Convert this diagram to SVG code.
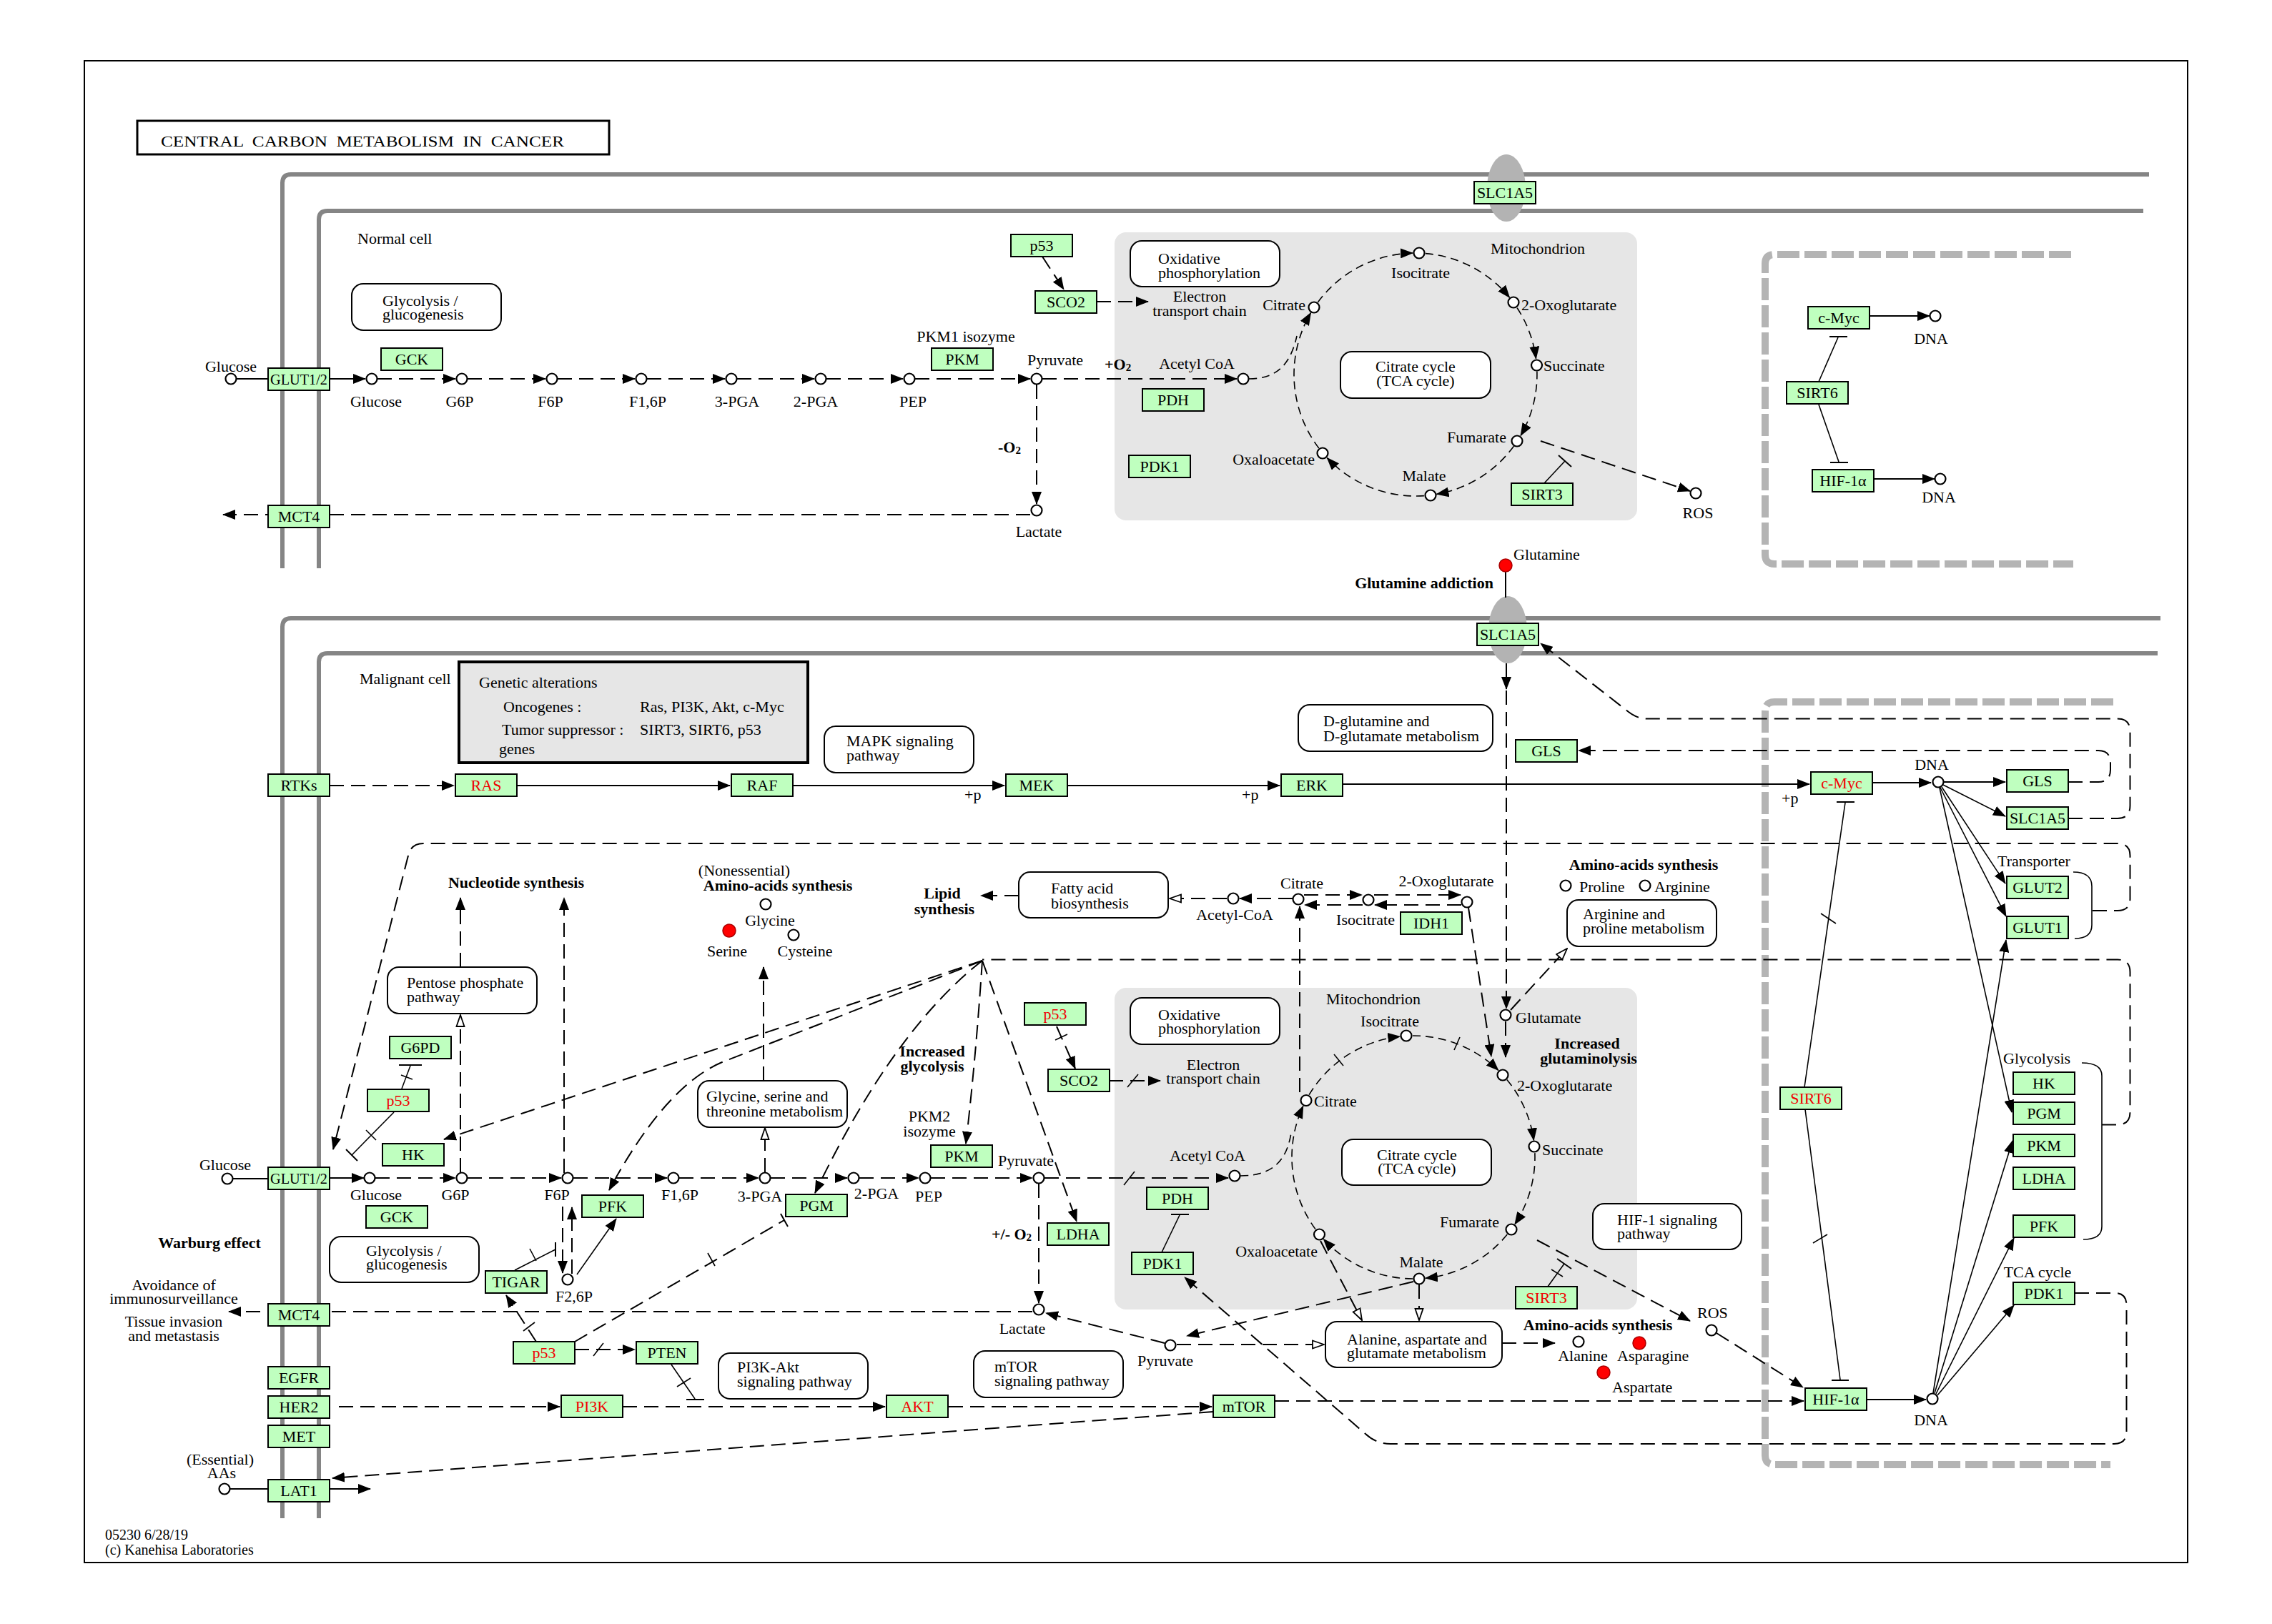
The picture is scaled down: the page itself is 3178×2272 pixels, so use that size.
<svg xmlns="http://www.w3.org/2000/svg" width="3178" height="2272" viewBox="0 0 3178 2272">
<defs>
<style>
text{font-family:"Liberation Serif","Times New Roman",serif;font-size:22px;fill:#000}
.m{text-anchor:middle}
.e{text-anchor:end}
.b{font-weight:bold}
.red{fill:#f00000}
.sm{font-size:20px}
.gb rect{fill:#bfffbf;stroke:#000;stroke-width:2}
.pw rect{fill:#fff;stroke:#000;stroke-width:2}
.c{fill:#fff;stroke:#000;stroke-width:2.2}
.rc{fill:#f00;stroke:#a00;stroke-width:1.5}
.mem{fill:none;stroke:#858585;stroke-width:6}
.gd{fill:none;stroke:#b4b4b4;stroke-width:10;stroke-dasharray:31 7}
.s{fill:none;stroke:#000;stroke-width:2}
.d{fill:none;stroke:#000;stroke-width:2;stroke-dasharray:20 10}
.t{fill:none;stroke:#000;stroke-width:1.6;stroke-dasharray:11 7}
.th{fill:none;stroke:#000;stroke-width:1.6}
.a{marker-end:url(#ar)}
.h{marker-end:url(#ho)}
</style>
<marker id="ar" markerUnits="userSpaceOnUse" markerWidth="18" markerHeight="14" refX="17" refY="7" orient="auto" viewBox="0 0 18 14"><path d="M0,0 L18,7 L0,14 Z" fill="#000"/></marker>
<marker id="ho" markerUnits="userSpaceOnUse" markerWidth="18" markerHeight="14" refX="17" refY="7" orient="auto" viewBox="0 0 18 14"><path d="M1,1.5 L17,7 L1,12.5 Z" fill="#fff" stroke="#000" stroke-width="1.8"/></marker>
</defs>

<rect width="3178" height="2272" fill="#fff"/>
<rect x="118" y="85" width="2942" height="2101" fill="none" stroke="#000" stroke-width="2"/>

<!-- title -->
<g id="title">
<rect x="192" y="169" width="660" height="47" fill="#fff" stroke="#000" stroke-width="3"/>
<text x="225" y="205" font-size="27" textLength="564" lengthAdjust="spacingAndGlyphs" xml:space="preserve">CENTRAL  CARBON  METABOLISM  IN  CANCER</text>
</g>

<!-- cell membranes -->
<g id="membranes">
<path class="mem" d="M395,795 V256 Q395,244 407,244 H3006"/>
<path class="mem" d="M446,795 V307 Q446,295 458,295 H2998"/>
<path class="mem" d="M395,2124 V877 Q395,865 407,865 H3022"/>
<path class="mem" d="M446,2124 V926 Q446,914 458,914 H3018"/>
<ellipse cx="2107" cy="263" rx="27" ry="47" fill="#b3b3b3"/>
<ellipse cx="2109" cy="881" rx="27" ry="47" fill="#b3b3b3"/>
</g>

<!-- nucleus-like regions, mitochondria and the alterations panel -->
<g id="regions">
<path class="gd" d="M2897,356 H2482 Q2469,356 2469,369 V776 Q2469,789 2482,789 H2900"/>
<path class="gd" d="M2956,982 H2482 Q2469,982 2469,995 V2036 Q2469,2049 2482,2049 H2952"/>
<rect x="1559" y="325" width="731" height="403" rx="16" fill="#e6e6e6"/>
<rect x="1559" y="1382" width="731" height="450" rx="16" fill="#e6e6e6"/>
<rect x="642" y="926" width="488" height="141" fill="#e6e6e6" stroke="#000" stroke-width="4"/>
<text x="670" y="962">Genetic alterations</text>
<text x="704" y="996">Oncogenes :</text>
<text x="895" y="996">Ras, PI3K, Akt, c-Myc</text>
<text x="702" y="1028">Tumor suppressor :</text>
<text x="895" y="1028">SIRT3, SIRT6, p53</text>
<text x="698" y="1055">genes</text>
</g>

<g id="connectors">
<!-- normal cell glycolysis -->
<path class="s" d="M331,530 H375"/>
<path class="s a" d="M461,530 H511"/>
<path class="d a" d="M528,530 H637"/>
<path class="d a" d="M654,530 H763"/>
<path class="d a" d="M780,530 H888"/>
<path class="d a" d="M905,530 H1014"/>
<path class="d a" d="M1031,530 H1139"/>
<path class="d a" d="M1156,530 H1263"/>
<path class="d a" d="M1280,530 H1441"/>
<path class="d a" d="M1458,530 H1730"/>
<path class="d a" d="M1450,538 V705"/>
<path class="d a" d="M1441,720 H312"/>
<path class="d a" d="M1458,359 L1488,405"/>
<path class="d a" d="M1534,422 H1606"/>
<path class="t" d="M1747,530 C1790,530 1806,505 1814,470"/>
<!-- normal TCA cycle -->
<path class="t a" d="M1843.3,422.9 A170,170 0 0 1 1976.1,354.0"/>
<path class="t a" d="M1993.9,354.6 A170,170 0 0 1 2111.5,416.3"/>
<path class="t a" d="M2122.1,430.7 A170,170 0 0 1 2148.5,501.8"/>
<path class="t a" d="M2149.9,519.5 A170,170 0 0 1 2127.1,609.3"/>
<path class="t a" d="M2117.4,624.2 A170,170 0 0 1 2009.5,691.4"/>
<path class="t a" d="M1991.9,693.6 A170,170 0 0 1 1856.3,640.6"/>
<path class="t a" d="M1844.8,627.0 A170,170 0 0 1 1833.5,437.7"/>
<path class="d a" d="M2155,617 L2364,687"/>
<path class="th" d="M2160,676 L2189,645"/>
<path class="s" d="M2180,637 L2198,653"/>
<path class="s a" d="M2615,442 H2699"/>
<path class="s a" d="M2621,670 H2706"/>
<path class="th" d="M2544,534 L2571,472"/>
<path class="s" d="M2559,471 H2584"/>
<path class="th" d="M2544,566 L2572,646"/>
<path class="s" d="M2560,647 H2585"/>
<!-- glutamine uptake -->
<path class="s" d="M2106,800 V836"/>
<path class="s a" d="M2107,928 V964"/>
<path class="d a" d="M2107,966 V1411"/>

<!-- malignant cell signalling -->
<path class="d a" d="M461,1099 H635"/>
<path class="s a" d="M722,1099 H1021"/>
<path class="s a" d="M1109,1099 H1405"/>
<path class="s a" d="M1493,1099 H1790"/>
<path class="s a" d="M1878,1097 H2531"/>
<path class="s a" d="M2619,1095 H2701"/>
<path class="s a" d="M2719,1094 H2805"/>
<path class="th a" d="M2718,1098 L2805,1142"/>
<path class="th a" d="M2716,1101 L2805,1236"/>
<path class="th a" d="M2714,1102 L2806,1282"/>
<path class="th a" d="M2713,1102 L2814,1556"/>
<path class="th a" d="M2704,1949 L2806,1315"/>
<path class="th a" d="M2706,1949 L2815,1596"/>
<path class="th a" d="M2708,1950 L2817,1732"/>
<path class="th a" d="M2710,1952 L2817,1826"/>
<path class="s a" d="M2611,1958 H2694"/>
<path class="th" d="M2525,1552 L2574,1930"/>
<path class="s" d="M2562,1931 H2586"/>
<path class="th" d="M2536,1739 L2556,1727"/>
<path class="th" d="M2524,1521 L2581,1123"/>
<path class="s" d="M2569,1122 H2594"/>
<path class="th" d="M2547,1278 L2568,1292"/>

<!-- feedback loops -->
<path class="d a" d="M2893,1094 H2935 Q2952,1094 2952,1077 V1067 Q2952,1050 2935,1050 H2208"/>
<path class="d a" d="M2893,1145 H2962 Q2979.5,1145 2979.5,1127 V1023 Q2979.5,1005.6 2962,1005.6 H2305 Q2290,1005.6 2278,996 L2155,900"/>
<path class="d a" d="M2927,1274 H2962 Q2979.5,1274 2979.5,1257 V1197 Q2979.5,1180 2962,1180 H592 Q575,1180 571,1197 L466,1608"/>
<path class="d" d="M2940,1573.5 H2962 Q2979.5,1573.5 2979.5,1556 V1360 Q2979.5,1342.5 2962,1342.5 H1374"/>
<path class="th" d="M2900,1220 Q2926,1220 2926,1240 V1294 Q2926,1313 2902,1313"/>
<path class="th" d="M2912,1487 Q2940,1487 2940,1505 V1716 Q2940,1734 2914,1734"/>
<path class="d a" d="M2902,1809 H2958 Q2974.5,1809 2974.5,1826 V2003 Q2974.5,2020 2957,2020 H1945 Q1925,2020 1910,2006 L1657,1787"/>
<!-- increased glycolysis fan -->
<path class="d a" d="M1374,1344 L621,1594"/>
<path class="d a" d="M1374,1344 L1010,1486 Q930,1520 852,1665"/>
<path class="d a" d="M1374,1344 Q1250,1440 1140,1669"/>
<path class="d a" d="M1374,1344 Q1365,1480 1351,1600"/>
<path class="d a" d="M1374,1344 L1506,1709"/>

<!-- cytosolic citrate / glutaminolysis -->
<path class="d a" d="M1808,1257 H1734"/>
<path class="d h" d="M1716,1257 H1636"/>
<path class="d a" d="M1425,1253 H1372"/>
<path class="d a" d="M1824,1252 H1905"/>
<path class="d a" d="M1906,1266 H1825"/>
<path class="d a" d="M1922,1252 H2043"/>
<path class="d a" d="M2044,1266 H1923"/>
<path class="d a" d="M1818,1528 V1268"/>
<path class="d a" d="M2054,1270 L2086,1478"/>
<path class="d a" d="M2106,1429 V1479"/>
<path class="d h" d="M2113,1413 L2192,1327"/>
<path class="d a" d="M1068,1512 V1353"/>
<path class="d h" d="M1070,1640 V1578"/>
<path class="d h" d="M644,1640 V1420"/>
<path class="d a" d="M644,1353 V1256"/>
<path class="d a" d="M789,1641 V1256"/>

<!-- malignant glycolysis -->
<path class="s" d="M326,1649 H375"/>
<path class="s a" d="M461,1648 H509"/>
<path class="d a" d="M525,1648 H637"/>
<path class="d a" d="M654,1648 H785"/>
<path class="d a" d="M802,1648 H933"/>
<path class="d a" d="M950,1648 H1061"/>
<path class="d a" d="M1078,1648 H1185"/>
<path class="d a" d="M1202,1648 H1285"/>
<path class="d a" d="M1302,1648 H1444"/>
<path class="d a" d="M1461,1648 H1718"/>
<path class="th" d="M1572,1658 L1587,1639"/>
<path class="d a" d="M1453,1656 V1823"/>
<path class="d a" d="M1444,1835 H320"/>
<path class="d a" d="M1551,1512 H1623"/>
<path class="th" d="M1577,1521 L1592,1503"/>
<path class="d a" d="M1478,1436 L1504,1495"/>
<path class="th" d="M1476,1455 L1493,1447"/>
<path class="t" d="M1735,1645 C1782,1645 1800,1622 1806,1585"/>
<!-- malignant TCA cycle -->
<path class="t a" d="M1831.1,1531.7 A170,170 0 0 1 1958.3,1450.0"/>
<path class="t a" d="M1976.1,1449.0 A170,170 0 0 1 2095.8,1497.4"/>
<path class="t a" d="M2107.8,1510.4 A170,170 0 0 1 2145.4,1595.3"/>
<path class="t a" d="M2146.9,1613.1 A170,170 0 0 1 2118.8,1712.8"/>
<path class="t a" d="M2108.2,1727.1 A170,170 0 0 1 1993.9,1788.2"/>
<path class="t a" d="M1976.1,1789.0 A170,170 0 0 1 1851.3,1733.4"/>
<path class="t a" d="M1840.0,1719.6 A170,170 0 0 1 1822.8,1547.4"/>
<path class="th" d="M1866,1475 L1879,1491"/>
<path class="th" d="M2034,1469 L2042,1451"/>
<path class="th" d="M1625,1752 L1650,1700"/>
<path class="s" d="M1638,1699 H1663"/>
<path class="d a" d="M1977,1793 L1660,1869"/>
<path class="d h" d="M1646,1881 H1852"/>
<path class="d a" d="M1629,1879 L1463,1837"/>
<path class="d h" d="M1847,1736 L1905,1847"/>
<path class="d h" d="M1985,1797 V1847"/>
<path class="d a" d="M2101,1879 H2175"/>
<path class="d a" d="M2150,1735 L2364,1848"/>
<path class="th" d="M2165,1800 L2188,1768"/>
<path class="s" d="M2178,1761 L2198,1775"/>
<path class="th" d="M2170,1776 L2186,1786"/>
<path class="d a" d="M2401,1865 L2522,1941"/>
<path class="d a" d="M1783,1960 H2523"/>
<!-- growth factor signalling -->
<path class="d a" d="M474,1968 H783"/>
<path class="d a" d="M871,1968 H1238"/>
<path class="d a" d="M1327,1968 H1695"/>
<path class="d a" d="M1697,1975 L465,2068"/>
<path class="s" d="M322,2083 H375"/>
<path class="s a" d="M461,2083 H518"/>
<path class="th" d="M939,1909 L972,1957"/>
<path class="s" d="M960,1958 H985"/>
<path class="th" d="M947,1940 L966,1928"/>
<path class="d a" d="M804,1888 H888"/>
<path class="th" d="M830,1897 L844,1879"/>
<path class="d a" d="M750,1877 L708,1812"/>
<path class="th" d="M732,1862 L748,1850"/>
<path class="d" d="M804,1877 L1097,1707"/>
<path class="th" d="M990,1753 L1000,1771"/>
<path class="s" d="M1092,1698 L1102,1716"/>
<path class="th" d="M720,1777 L777,1748"/>
<path class="s" d="M777,1738 V1758"/>
<path class="th" d="M741,1747 L750,1764"/>
<path class="d a" d="M787,1688 V1781"/>
<path class="d a" d="M800,1782 V1689"/>
<path class="th a" d="M807,1783 L862,1705"/>
<path class="th" d="M562,1523 L574,1491"/>
<path class="s" d="M558,1490 H590"/>
<path class="th" d="M561,1504 L577,1510"/>
<path class="th" d="M551,1556 L492,1616"/>
<path class="s" d="M484,1608 L500,1624"/>
<path class="th" d="M512,1581 L526,1595"/>
</g>

<!-- pathway maps -->
<g class="pw">
<g id="p-glyco-n"><rect x="492" y="397" width="209" height="65" rx="16"/><text x="535" y="428">Glycolysis /</text><text x="535" y="447">glucogenesis</text></g>
<g id="p-oxphos-n"><rect x="1581" y="337" width="209" height="64" rx="16"/><text x="1620" y="369">Oxidative</text><text x="1620" y="389">phosphorylation</text></g>
<g id="p-tca-n"><rect x="1875" y="492" width="210" height="65" rx="16"/><text class="m" x="1980" y="520">Citrate cycle</text><text class="m" x="1980" y="540">(TCA cycle)</text></g>
<g id="p-mapk"><rect x="1153" y="1016" width="209" height="65" rx="16"/><text x="1184" y="1044">MAPK signaling</text><text x="1184" y="1064">pathway</text></g>
<g id="p-dglu"><rect x="1816" y="986" width="272" height="65" rx="16"/><text x="1851" y="1016">D-glutamine and</text><text x="1851" y="1037">D-glutamate metabolism</text></g>
<g id="p-ppp"><rect x="542" y="1353" width="209" height="65" rx="16"/><text x="569" y="1382">Pentose phosphate</text><text x="569" y="1402">pathway</text></g>
<g id="p-fatty"><rect x="1425" y="1220" width="209" height="64" rx="16"/><text x="1470" y="1250">Fatty acid</text><text x="1470" y="1271">biosynthesis</text></g>
<g id="p-argpro"><rect x="2192" y="1259" width="209" height="65" rx="16"/><text x="2214" y="1286">Arginine and</text><text x="2214" y="1306">proline metabolism</text></g>
<g id="p-gly"><rect x="976" y="1512" width="209" height="65" rx="16"/><text x="988" y="1541">Glycine, serine and</text><text x="988" y="1562">threonine metabolism</text></g>
<g id="p-oxphos-m"><rect x="1581" y="1396" width="209" height="65" rx="16"/><text x="1620" y="1427">Oxidative</text><text x="1620" y="1446">phosphorylation</text></g>
<g id="p-tca-m"><rect x="1877" y="1594" width="209" height="64" rx="16"/><text class="m" x="1982" y="1623">Citrate cycle</text><text class="m" x="1982" y="1642">(TCA cycle)</text></g>
<g id="p-hif1"><rect x="2228" y="1684" width="208" height="64" rx="16"/><text x="2262" y="1714">HIF-1 signaling</text><text x="2262" y="1733">pathway</text></g>
<g id="p-glyco-m"><rect x="461" y="1730" width="209" height="64" rx="16"/><text x="512" y="1757">Glycolysis /</text><text x="512" y="1776">glucogenesis</text></g>
<g id="p-ala"><rect x="1854" y="1849" width="247" height="64" rx="16"/><text x="1884" y="1881">Alanine, aspartate and</text><text x="1884" y="1900">glutamate metabolism</text></g>
<g id="p-pi3k"><rect x="1005" y="1893" width="209" height="64" rx="16"/><text x="1031" y="1920">PI3K-Akt</text><text x="1031" y="1940">signaling pathway</text></g>
<g id="p-mtor"><rect x="1362" y="1890" width="209" height="65" rx="16"/><text x="1391" y="1919">mTOR</text><text x="1391" y="1939">signaling pathway</text></g>
</g>

<!-- gene products -->
<g class="gb">
<g id="n-glut12"><rect x="375" y="515" width="86" height="31"/><text class="m" x="418" y="538" textLength="80" lengthAdjust="spacingAndGlyphs">GLUT1/2</text></g>
<g id="n-mct4"><rect x="375" y="707" width="86" height="31"/><text class="m" x="418" y="730">MCT4</text></g>
<g id="n-gck"><rect x="533" y="487" width="86" height="31"/><text class="m" x="576" y="510">GCK</text></g>
<g id="n-pkm"><rect x="1303" y="487" width="86" height="31"/><text class="m" x="1346" y="510">PKM</text></g>
<g id="n-p53"><rect x="1414" y="328" width="86" height="31"/><text class="m" x="1457" y="351">p53</text></g>
<g id="n-sco2"><rect x="1448" y="407" width="86" height="31"/><text class="m" x="1491" y="430">SCO2</text></g>
<g id="n-pdh"><rect x="1598" y="544" width="86" height="31"/><text class="m" x="1641" y="567">PDH</text></g>
<g id="n-pdk1"><rect x="1579" y="637" width="86" height="31"/><text class="m" x="1622" y="660">PDK1</text></g>
<g id="n-sirt3"><rect x="2114" y="676" width="86" height="31"/><text class="m" x="2157" y="699">SIRT3</text></g>
<g id="n-slc1a5"><rect x="2062" y="254" width="86" height="31"/><text class="m" x="2105" y="277">SLC1A5</text></g>
<g id="n-cmyc"><rect x="2529" y="429" width="86" height="31"/><text class="m" x="2572" y="452">c-Myc</text></g>
<g id="n-sirt6"><rect x="2499" y="534" width="86" height="31"/><text class="m" x="2542" y="557">SIRT6</text></g>
<g id="n-hif1a"><rect x="2535" y="657" width="86" height="31"/><text class="m" x="2578" y="680">HIF-1α</text></g>

<g id="m-rtks"><rect x="375" y="1083" width="86" height="31"/><text class="m" x="418" y="1106">RTKs</text></g>
<g id="m-ras"><rect x="637" y="1083" width="86" height="31"/><text class="m red" x="680" y="1106">RAS</text></g>
<g id="m-raf"><rect x="1023" y="1083" width="86" height="31"/><text class="m" x="1066" y="1106">RAF</text></g>
<g id="m-mek"><rect x="1407" y="1083" width="86" height="31"/><text class="m" x="1450" y="1106">MEK</text></g>
<g id="m-erk"><rect x="1792" y="1083" width="86" height="31"/><text class="m" x="1835" y="1106">ERK</text></g>
<g id="m-cmyc"><rect x="2533" y="1080" width="86" height="31"/><text class="m red" x="2576" y="1103">c-Myc</text></g>
<g id="m-gls"><rect x="2120" y="1035" width="86" height="31"/><text class="m" x="2163" y="1058">GLS</text></g>
<g id="m-slc1a5"><rect x="2066" y="872" width="86" height="31"/><text class="m" x="2109" y="895">SLC1A5</text></g>
<g id="m-gls-t"><rect x="2807" y="1077" width="86" height="31"/><text class="m" x="2850" y="1100">GLS</text></g>
<g id="m-slc1a5-t"><rect x="2807" y="1129" width="86" height="31"/><text class="m" x="2850" y="1152">SLC1A5</text></g>
<g id="m-glut2"><rect x="2807" y="1226" width="86" height="31"/><text class="m" x="2850" y="1249">GLUT2</text></g>
<g id="m-glut1"><rect x="2807" y="1282" width="86" height="31"/><text class="m" x="2850" y="1305">GLUT1</text></g>
<g id="m-idh1"><rect x="1959" y="1276" width="86" height="31"/><text class="m" x="2002" y="1299">IDH1</text></g>
<g id="m-g6pd"><rect x="545" y="1450" width="86" height="31"/><text class="m" x="588" y="1473">G6PD</text></g>
<g id="m-p53-a"><rect x="514" y="1524" width="86" height="31"/><text class="m red" x="557" y="1547">p53</text></g>
<g id="m-hk"><rect x="535" y="1600" width="86" height="31"/><text class="m" x="578" y="1623">HK</text></g>
<g id="m-glut12"><rect x="375" y="1633" width="86" height="31"/><text class="m" x="418" y="1656" textLength="80" lengthAdjust="spacingAndGlyphs">GLUT1/2</text></g>
<g id="m-gck"><rect x="512" y="1687" width="86" height="31"/><text class="m" x="555" y="1710">GCK</text></g>
<g id="m-pfk"><rect x="814" y="1672" width="86" height="31"/><text class="m" x="857" y="1695">PFK</text></g>
<g id="m-tigar"><rect x="679" y="1778" width="86" height="31"/><text class="m" x="722" y="1801">TIGAR</text></g>
<g id="m-mct4"><rect x="375" y="1824" width="86" height="31"/><text class="m" x="418" y="1847">MCT4</text></g>
<g id="m-p53-b"><rect x="718" y="1877" width="86" height="31"/><text class="m red" x="761" y="1900">p53</text></g>
<g id="m-pten"><rect x="890" y="1877" width="86" height="31"/><text class="m" x="933" y="1900">PTEN</text></g>
<g id="m-egfr"><rect x="375" y="1912" width="86" height="31"/><text class="m" x="418" y="1935">EGFR</text></g>
<g id="m-her2"><rect x="375" y="1953" width="86" height="31"/><text class="m" x="418" y="1976">HER2</text></g>
<g id="m-met"><rect x="375" y="1994" width="86" height="31"/><text class="m" x="418" y="2017">MET</text></g>
<g id="m-pi3k"><rect x="785" y="1952" width="86" height="31"/><text class="m red" x="828" y="1975">PI3K</text></g>
<g id="m-akt"><rect x="1240" y="1952" width="86" height="31"/><text class="m red" x="1283" y="1975">AKT</text></g>
<g id="m-lat1"><rect x="375" y="2070" width="86" height="31"/><text class="m" x="418" y="2093">LAT1</text></g>
<g id="m-pgm"><rect x="1099" y="1671" width="86" height="31"/><text class="m" x="1142" y="1694">PGM</text></g>
<g id="m-pkm"><rect x="1302" y="1602" width="86" height="31"/><text class="m" x="1345" y="1625">PKM</text></g>
<g id="m-ldha"><rect x="1465" y="1711" width="86" height="31"/><text class="m" x="1508" y="1734">LDHA</text></g>
<g id="m-p53-c"><rect x="1433" y="1403" width="86" height="31"/><text class="m red" x="1476" y="1426">p53</text></g>
<g id="m-sco2"><rect x="1466" y="1496" width="86" height="31"/><text class="m" x="1509" y="1519">SCO2</text></g>
<g id="m-pdh"><rect x="1604" y="1661" width="86" height="31"/><text class="m" x="1647" y="1684">PDH</text></g>
<g id="m-pdk1"><rect x="1583" y="1752" width="86" height="31"/><text class="m" x="1626" y="1775">PDK1</text></g>
<g id="m-sirt3"><rect x="2120" y="1800" width="86" height="31"/><text class="m red" x="2163" y="1823">SIRT3</text></g>
<g id="m-mtor"><rect x="1697" y="1952" width="86" height="31"/><text class="m" x="1740" y="1975">mTOR</text></g>
<g id="m-sirt6"><rect x="2490" y="1521" width="86" height="31"/><text class="m red" x="2533" y="1544">SIRT6</text></g>
<g id="m-hif1a"><rect x="2525" y="1942" width="86" height="31"/><text class="m" x="2568" y="1965">HIF-1α</text></g>
<g id="t-hk"><rect x="2816" y="1500" width="86" height="31"/><text class="m" x="2859" y="1523">HK</text></g>
<g id="t-pgm"><rect x="2816" y="1542" width="86" height="31"/><text class="m" x="2859" y="1565">PGM</text></g>
<g id="t-pkm"><rect x="2816" y="1587" width="86" height="31"/><text class="m" x="2859" y="1610">PKM</text></g>
<g id="t-ldha"><rect x="2816" y="1633" width="86" height="31"/><text class="m" x="2859" y="1656">LDHA</text></g>
<g id="t-pfk"><rect x="2816" y="1700" width="86" height="31"/><text class="m" x="2859" y="1723">PFK</text></g>
<g id="t-pdk1"><rect x="2816" y="1794" width="86" height="31"/><text class="m" x="2859" y="1817">PDK1</text></g>
</g>

<!-- compounds -->
<g id="compounds">
<circle class="c" cx="323" cy="530" r="7.5"/>
<circle class="c" cx="520" cy="530" r="7.5"/>
<circle class="c" cx="646" cy="530" r="7.5"/>
<circle class="c" cx="772" cy="530" r="7.5"/>
<circle class="c" cx="897" cy="530" r="7.5"/>
<circle class="c" cx="1023" cy="530" r="7.5"/>
<circle class="c" cx="1148" cy="530" r="7.5"/>
<circle class="c" cx="1272" cy="530" r="7.5"/>
<circle class="c" cx="1450" cy="530" r="7.5"/>
<circle class="c" cx="1450" cy="714" r="7.5"/>
<circle class="c" cx="1739" cy="530" r="7.5"/>
<circle class="c" cx="1838" cy="430" r="7.5"/>
<circle class="c" cx="1985" cy="354" r="7.5"/>
<circle class="c" cx="2117" cy="423" r="7.5"/>
<circle class="c" cx="2149.5" cy="511" r="7.5"/>
<circle class="c" cx="2122" cy="617" r="7.5"/>
<circle class="c" cx="2001" cy="693" r="7.5"/>
<circle class="c" cx="1850" cy="634" r="7.5"/>
<circle class="c" cx="2372" cy="690" r="7.5"/>
<circle class="c" cx="2707" cy="442" r="7.5"/>
<circle class="c" cx="2714" cy="670" r="7.5"/>
<circle class="rc" cx="2106" cy="791" r="9"/>

<circle class="c" cx="2711" cy="1094" r="7.5"/>
<circle class="c" cx="2703" cy="1957" r="7.5"/>
<circle class="c" cx="1071" cy="1265" r="7.5"/>
<circle class="rc" cx="1020" cy="1302" r="9"/>
<circle class="c" cx="1110" cy="1308" r="7.5"/>
<circle class="c" cx="1816" cy="1258" r="7.5"/>
<circle class="c" cx="1725" cy="1257" r="7.5"/>
<circle class="c" cx="1914" cy="1259" r="7.5"/>
<circle class="c" cx="2052" cy="1262" r="7.5"/>
<circle class="c" cx="2190" cy="1239" r="7.5"/>
<circle class="c" cx="2301" cy="1239" r="7.5"/>
<circle class="c" cx="2106" cy="1420" r="7.5"/>
<circle class="c" cx="318" cy="1649" r="7.5"/>
<circle class="c" cx="517" cy="1648" r="7.5"/>
<circle class="c" cx="646" cy="1648" r="7.5"/>
<circle class="c" cx="794" cy="1648" r="7.5"/>
<circle class="c" cx="942" cy="1648" r="7.5"/>
<circle class="c" cx="1070" cy="1648" r="7.5"/>
<circle class="c" cx="1194" cy="1648" r="7.5"/>
<circle class="c" cx="1294" cy="1648" r="7.5"/>
<circle class="c" cx="1453" cy="1648" r="7.5"/>
<circle class="c" cx="1453" cy="1832" r="7.5"/>
<circle class="c" cx="794" cy="1790" r="7.5"/>
<circle class="c" cx="314" cy="2083" r="7.5"/>
<circle class="c" cx="1727" cy="1645" r="7.5"/>
<circle class="c" cx="1827" cy="1539.5" r="7.5"/>
<circle class="c" cx="1967" cy="1449" r="7.5"/>
<circle class="c" cx="2102" cy="1504" r="7.5"/>
<circle class="c" cx="2146" cy="1604" r="7.5"/>
<circle class="c" cx="2114" cy="1720" r="7.5"/>
<circle class="c" cx="1985" cy="1789" r="7.5"/>
<circle class="c" cx="1845.5" cy="1727" r="7.5"/>
<circle class="c" cx="1637" cy="1882" r="7.5"/>
<circle class="c" cx="2394" cy="1861" r="7.5"/>
<circle class="c" cx="2208" cy="1877" r="7.5"/>
<circle class="rc" cx="2293" cy="1879" r="9"/>
<circle class="rc" cx="2243" cy="1920" r="9"/>
</g>

<!-- labels -->
<g id="labels">
<text x="500" y="341">Normal cell</text>
<text class="m" x="323" y="520">Glucose</text>
<text class="m" x="526" y="569">Glucose</text>
<text class="m" x="643" y="569">G6P</text>
<text class="m" x="770" y="569">F6P</text>
<text class="m" x="906" y="569">F1,6P</text>
<text class="m" x="1031" y="569">3-PGA</text>
<text class="m" x="1141" y="569">2-PGA</text>
<text class="m" x="1277" y="569">PEP</text>
<text class="m" x="1351" y="478">PKM1 isozyme</text>
<text class="m" x="1476" y="511">Pyruvate</text>
<text class="b" x="1545" y="517">+O<tspan font-size="15" dy="2">2</tspan></text>
<text class="b" x="1396" y="633">-O<tspan font-size="15" dy="2">2</tspan></text>
<text class="m" x="1453" y="751">Lactate</text>
<text class="m" x="1678" y="422">Electron</text>
<text class="m" x="1678" y="442">transport chain</text>
<text class="m" x="1674" y="516">Acetyl CoA</text>
<text class="e" x="1826" y="434">Citrate</text>
<text class="m" x="1987" y="389">Isocitrate</text>
<text x="2128" y="434">2-Oxoglutarate</text>
<text x="2159" y="519">Succinate</text>
<text class="e" x="2107" y="619">Fumarate</text>
<text class="m" x="1992" y="673">Malate</text>
<text class="e" x="1839" y="650">Oxaloacetate</text>
<text x="2085" y="355">Mitochondrion</text>
<text class="m" x="2375" y="725">ROS</text>
<text x="2117" y="783">Glutamine</text>
<text class="m" x="2701" y="481">DNA</text>
<text class="m" x="2712" y="703">DNA</text>
<text class="b m" x="1992" y="823">Glutamine addiction</text>

<text x="503" y="957">Malignant cell</text>
<text x="1349" y="1119">+p</text>
<text x="1737" y="1119">+p</text>
<text x="2492" y="1124">+p</text>
<text class="m" x="2702" y="1077">DNA</text>
<text class="b m" x="722" y="1242">Nucleotide synthesis</text>
<text class="m" x="1041" y="1225">(Nonessential)</text>
<text class="b m" x="1088" y="1246">Amino-acids synthesis</text>
<text class="m" x="1077" y="1295">Glycine</text>
<text class="m" x="1017" y="1338">Serine</text>
<text class="m" x="1126" y="1338">Cysteine</text>
<text class="b m" x="1318" y="1257">Lipid</text>
<text class="b m" x="1321" y="1279">synthesis</text>
<text class="m" x="1821" y="1243">Citrate</text>
<text class="m" x="1727" y="1287">Acetyl-CoA</text>
<text class="m" x="1910" y="1294">Isocitrate</text>
<text class="m" x="2023" y="1240">2-Oxoglutarate</text>
<text class="b m" x="2299" y="1217">Amino-acids synthesis</text>
<text x="2209" y="1248">Proline</text>
<text x="2314" y="1248">Arginine</text>
<text x="2120" y="1431">Glutamate</text>
<text class="b m" x="2220" y="1467">Increased</text>
<text class="b m" x="2222" y="1488">glutaminolysis</text>
<text class="m" x="1921" y="1405">Mitochondrion</text>
<text class="m" x="1944" y="1436">Isocitrate</text>
<text class="m" x="1697" y="1497">Electron</text>
<text class="m" x="1697" y="1516">transport chain</text>
<text x="2122" y="1526">2-Oxoglutarate</text>
<text x="1838" y="1548">Citrate</text>
<text x="2157" y="1616">Succinate</text>
<text class="m" x="1689" y="1624">Acetyl CoA</text>
<text class="e" x="2097" y="1717">Fumarate</text>
<text class="m" x="1988" y="1773">Malate</text>
<text class="e" x="1843" y="1758">Oxaloacetate</text>
<text class="m" x="1630" y="1911">Pyruvate</text>
<text class="b m" x="2235" y="1861">Amino-acids synthesis</text>
<text class="m" x="2214" y="1904">Alanine</text>
<text x="2262" y="1904">Asparagine</text>
<text x="2255" y="1948">Aspartate</text>
<text x="2374" y="1844">ROS</text>
<text class="b m" x="1304" y="1478">Increased</text>
<text class="b m" x="1304" y="1499">glycolysis</text>
<text class="m" x="1300" y="1569">PKM2</text>
<text class="m" x="1300" y="1590">isozyme</text>
<text class="m" x="1435" y="1631">Pyruvate</text>
<text class="m" x="315" y="1637">Glucose</text>
<text class="m" x="526" y="1679">Glucose</text>
<text class="m" x="637" y="1679">G6P</text>
<text class="m" x="779" y="1679">F6P</text>
<text class="m" x="951" y="1679">F1,6P</text>
<text class="m" x="1063" y="1681">3-PGA</text>
<text class="m" x="1226" y="1677">2-PGA</text>
<text class="m" x="1299" y="1681">PEP</text>
<text class="b" x="1387" y="1734">+/- O<tspan font-size="15" dy="2">2</tspan></text>
<text class="m" x="1430" y="1866">Lactate</text>
<text class="b m" x="293" y="1746">Warburg effect</text>
<text class="m" x="243" y="1805">Avoidance of</text>
<text class="m" x="243" y="1824">immunosurveillance</text>
<text class="m" x="243" y="1856">Tissue invasion</text>
<text class="m" x="243" y="1876">and metastasis</text>
<text class="m" x="803" y="1821">F2,6P</text>
<text class="m" x="308" y="2049">(Essential)</text>
<text class="m" x="310" y="2068">AAs</text>
<text x="2794" y="1212">Transporter</text>
<text x="2802" y="1488">Glycolysis</text>
<text class="m" x="2850" y="1787">TCA cycle</text>
<text class="m" x="2701" y="1994">DNA</text>
<text class="sm" x="147" y="2154">05230 6/28/19</text>
<text class="sm" x="147" y="2175">(c) Kanehisa Laboratories</text>
</g>
</svg>
